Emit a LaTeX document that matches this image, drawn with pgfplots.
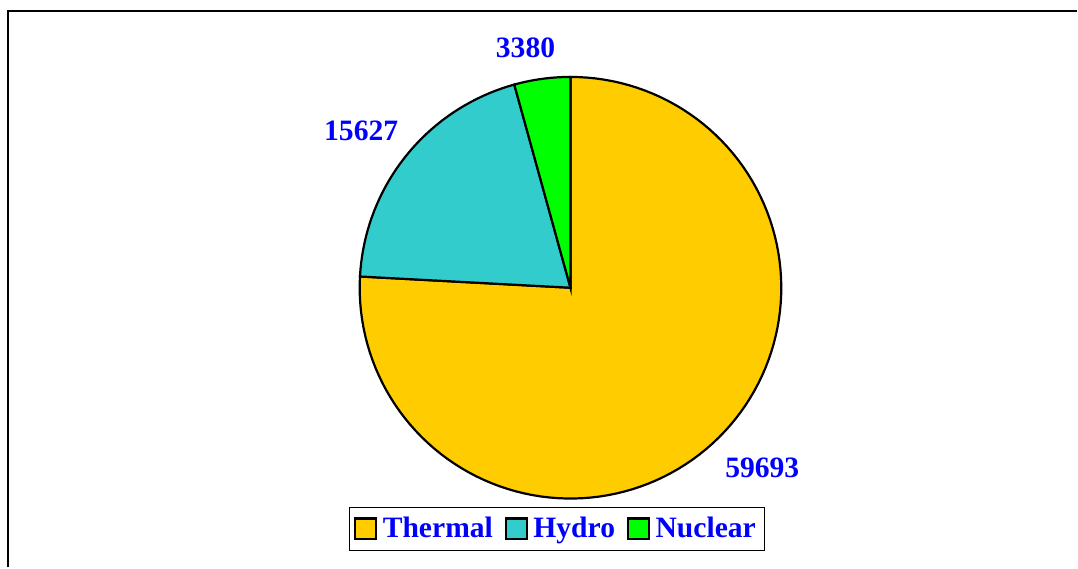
\documentclass[border=0pt]{standalone}
\usepackage{pgfplots}
\pgfplotsset{compat=1.18}
\usepackage{fontspec}
\setmainfont{Liberation Serif}
\definecolor{thermal}{HTML}{FFCC00}
\definecolor{hydro}{HTML}{33CCCC}
\definecolor{nuclear}{HTML}{00FF00}
\definecolor{lab}{HTML}{0000FF}
% data
\def\vThermal{59693}
\def\vHydro{15627}
\def\vNuclear{3380}
\edef\tot{\fpeval{\vThermal+\vHydro+\vNuclear}}
\edef\aA{\fpeval{90-360*\vThermal/\tot}}
\edef\aB{\fpeval{\aA-360*\vHydro/\tot}}
\edef\aC{\fpeval{\aB-360*\vNuclear/\tot}}
\begin{document}
\begin{tikzpicture}
\begin{axis}[
  scale only axis, width=539pt, height=284pt,
  xmin=0, xmax=1078, ymin=0, ymax=568,
  hide axis, clip=false,
  legend columns=-1,
  legend image code/.code={\draw[#1] (0pt,-5.2pt) rectangle (10.4pt,5.2pt); \path (11.2pt,0pt);},
  legend style={at={(axis description cs:0.5172,0.068)}, anchor=center,
    draw=black, line width=0.5pt, text=lab,
    font=\fontsize{14.8}{17}\selectfont\bfseries,
    inner xsep=2.3pt, inner ysep=3pt,
    /tikz/every even column/.append style={column sep=4pt}},
]
\addplot[fill=thermal, draw=black, line width=1.1pt, domain=\aA:90, samples=120, variable=\t]
  ({571+211*cos(\t)},{280+211*sin(\t)}) -- (axis cs:571,280) -- cycle;
\addlegendentry{Thermal}
\addplot[fill=hydro, draw=black, line width=1.1pt, domain=\aB:\aA, samples=40, variable=\t]
  ({571+211*cos(\t)},{280+211*sin(\t)}) -- (axis cs:571,280) -- cycle;
\addlegendentry{Hydro}
\addplot[fill=nuclear, draw=black, line width=1.1pt, domain=\aC:\aB, samples=15, variable=\t]
  ({571+211*cos(\t)},{280+211*sin(\t)}) -- (axis cs:571,280) -- cycle;
\addlegendentry{Nuclear}
\draw[black, line width=1pt] (axis cs:8,0) -- (axis cs:8,557) -- (axis cs:1078,557);
\path (axis cs:0,0) rectangle (axis cs:1078,568);
\node[text=lab, font=\fontsize{14.8}{17}\selectfont\bfseries] at (axis cs:763,100) {\vThermal};
\node[text=lab, font=\fontsize{14.8}{17}\selectfont\bfseries] at (axis cs:361.5,437) {\vHydro};
\node[text=lab, font=\fontsize{14.8}{17}\selectfont\bfseries] at (axis cs:526,520.5) {\vNuclear};
\end{axis}
\end{tikzpicture}
\end{document}
